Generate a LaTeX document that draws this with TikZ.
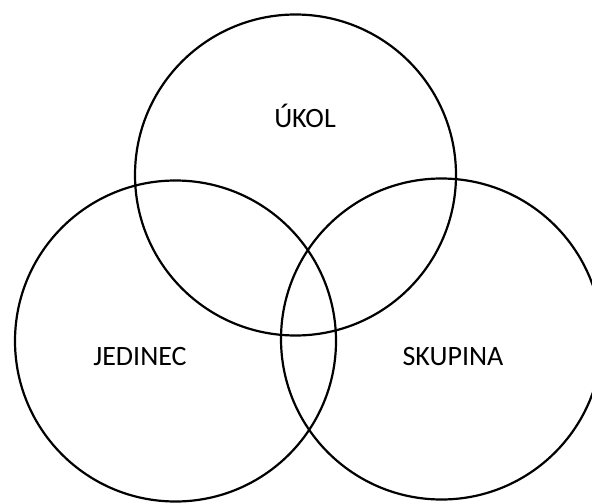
\documentclass[tikz,border=0pt]{standalone}
\usepackage{fontspec}
\setmainfont{Carlito}
\tikzset{
  vennset/.style={circle, draw=black, line width=2.2pt, minimum size=321pt, inner sep=0pt},
  vennlabel/.style={anchor=base, inner sep=0pt, font=\fontsize{28}{32}\selectfont, text=black}
}
\begin{document}
\begin{tikzpicture}[x=1pt,y=-1pt]
\useasboundingbox (0,0) rectangle (592,503);
\fill[white] (0,0) rectangle (592,503);
\clip (0,0) rectangle (592,503);
\node[vennset] (ukol) at (295.5,175) {};
\node[vennset] (jedinec) at (175.5,341) {};
\node[vennset] (skupina) at (441.5,339) {};
\node[vennlabel] (tukol) at (305,128) {ÚKOL};
\node[vennlabel] (tjedinec) at (140,365) {JEDINEC};
\node[vennlabel] (tskupina) at (453,365) {SKUPINA};
\end{tikzpicture}
\end{document}
